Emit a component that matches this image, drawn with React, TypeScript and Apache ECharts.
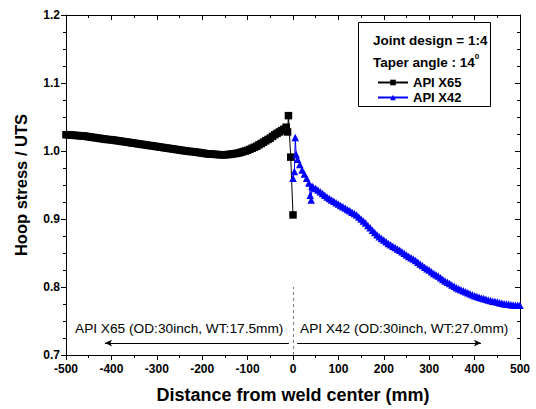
import React, { useEffect, useRef } from "react";
import * as echarts from "echarts";

const FONT = "'Liberation Sans', Arial, Helvetica, sans-serif";

// API X65 (black squares): [distance mm, hoop stress / UTS]
const x65Data: [number, number][] = [
  [-500, 1.024], [-495, 1.0238], [-490, 1.0235], [-485, 1.0232], [-480, 1.023],
  [-475, 1.0227], [-470, 1.0225], [-465, 1.0222], [-460, 1.022], [-455, 1.0215],
  [-450, 1.021], [-445, 1.0205], [-440, 1.02], [-435, 1.0195], [-430, 1.019],
  [-425, 1.0185], [-420, 1.018], [-415, 1.0175], [-410, 1.017], [-405, 1.0168],
  [-400, 1.0165], [-395, 1.016], [-390, 1.0155], [-385, 1.015], [-380, 1.0145],
  [-375, 1.014], [-370, 1.0135], [-365, 1.013], [-360, 1.0125], [-355, 1.012],
  [-350, 1.0115], [-345, 1.011], [-340, 1.0105], [-335, 1.01], [-330, 1.0095],
  [-325, 1.009], [-320, 1.0085], [-315, 1.008], [-310, 1.0075], [-305, 1.007],
  [-300, 1.0065], [-295, 1.006], [-290, 1.0055], [-285, 1.005], [-280, 1.0045],
  [-275, 1.004], [-270, 1.0035], [-265, 1.003], [-260, 1.0025], [-255, 1.002],
  [-250, 1.0015], [-245, 1.001], [-240, 1.0005], [-235, 1.0], [-230, 0.9995],
  [-225, 0.9992], [-220, 0.999], [-215, 0.9985], [-210, 0.998], [-205, 0.9975],
  [-200, 0.997], [-195, 0.9965], [-190, 0.996], [-185, 0.9957], [-180, 0.9955],
  [-175, 0.9952], [-170, 0.995], [-165, 0.9947], [-160, 0.9945], [-155, 0.9944],
  [-150, 0.9945], [-145, 0.9947], [-140, 0.995], [-135, 0.9955], [-130, 0.996],
  [-125, 0.9965], [-120, 0.997], [-115, 0.998], [-110, 0.999], [-105, 1.0],
  [-100, 1.001], [-95, 1.0025], [-90, 1.004], [-85, 1.0055], [-80, 1.007],
  [-75, 1.009], [-70, 1.011], [-65, 1.013], [-60, 1.015], [-55, 1.017],
  [-50, 1.019], [-45, 1.0215], [-40, 1.024], [-35, 1.026], [-30, 1.028],
  [-25, 1.03], [-20, 1.032], [-15, 1.035], [-12, 1.028], [-10, 1.052],
  [-5, 0.991], [0, 0.906],
];

// API X42 (blue triangles)
const x42Data: [number, number][] = [
  [0, 0.96], [3, 0.97], [5, 1.02], [7, 0.995], [10, 0.988], [15, 0.98],
  [20, 0.972], [25, 0.966], [30, 0.96], [35, 0.953], [38, 0.935], [40, 0.928],
  [42, 0.948], [45, 0.946], [50, 0.945], [55, 0.9425], [60, 0.94], [65, 0.9375],
  [70, 0.935], [75, 0.9325], [80, 0.93], [85, 0.928], [90, 0.926], [95, 0.924],
  [100, 0.922], [105, 0.92], [110, 0.918], [115, 0.916], [120, 0.914], [125, 0.912],
  [130, 0.91], [135, 0.908], [140, 0.906], [145, 0.903], [150, 0.9], [155, 0.897],
  [160, 0.894], [165, 0.8905], [170, 0.887], [175, 0.8835], [180, 0.88], [185, 0.877],
  [190, 0.874], [195, 0.8715], [200, 0.869], [205, 0.8665], [210, 0.864], [215, 0.862],
  [220, 0.86], [225, 0.858], [230, 0.856], [235, 0.854], [240, 0.852], [245, 0.8495],
  [250, 0.847], [255, 0.845], [260, 0.843], [265, 0.841], [270, 0.839], [275, 0.8365],
  [280, 0.834], [285, 0.8315], [290, 0.829], [295, 0.827], [300, 0.825], [305, 0.8225],
  [310, 0.82], [315, 0.818], [320, 0.816], [325, 0.8135], [330, 0.811], [335, 0.809],
  [340, 0.807], [345, 0.805], [350, 0.803], [355, 0.801], [360, 0.799], [365, 0.7975],
  [370, 0.796], [375, 0.7945], [380, 0.793], [385, 0.7915], [390, 0.79], [395, 0.7885],
  [400, 0.787], [405, 0.786], [410, 0.785], [415, 0.784], [420, 0.783], [425, 0.782],
  [430, 0.781], [435, 0.78], [440, 0.779], [445, 0.7785], [450, 0.778], [455, 0.777],
  [460, 0.776], [465, 0.7755], [470, 0.775], [475, 0.7745], [480, 0.774], [485, 0.7735],
  [490, 0.773], [495, 0.773], [500, 0.773],
];

const xRange = [-500, 500];
const yRange = [0.7, 1.2];
const dividerTop = 0.8;
const arrowY = 0.7175;
const leftArrow = [-9, -414];
const rightArrow = [9, 414];

export default function App() {
  const ref = useRef<HTMLDivElement>(null);
  useEffect(() => {
    if (!ref.current) return;
    const chart = echarts.init(ref.current, undefined, { renderer: "svg" });
    const axisLine = { show: true, onZero: false, lineStyle: { color: "#000", width: 1 } };
    const labelStyle = { color: "#000", fontFamily: FONT, fontWeight: "bold" as const, fontSize: 12 };
    chart.setOption({
      animation: false,
      backgroundColor: "#fff",
      grid: { left: 66, right: 16, top: 15, bottom: 52 },
      legend: {
        data: ["API X65", "API X42"],
        orient: "vertical",
        left: 372,
        top: 71,
        z: 20,
        itemWidth: 30,
        itemHeight: 7,
        itemGap: 2,
        textStyle: { ...labelStyle, fontSize: 13 },
      },
      xAxis: [
        {
          type: "value", min: xRange[0], max: xRange[1], interval: 100,
          axisLine, splitLine: { show: false },
          axisTick: { show: true, inside: false, length: 5, lineStyle: { color: "#000" } },
          minorTick: { show: true, splitNumber: 2, length: 3, lineStyle: { color: "#000" } },
          axisLabel: { ...labelStyle, margin: 8 },
          name: "Distance from weld center (mm)",
          nameLocation: "middle", nameGap: 31,
          nameTextStyle: { color: "#000", fontFamily: FONT, fontWeight: "bold", fontSize: 18 },
        },
        {
          type: "value", position: "top", min: xRange[0], max: xRange[1], interval: 100,
          axisLine, splitLine: { show: false },
          axisTick: { show: true, inside: true, length: 5, lineStyle: { color: "#000" } },
          minorTick: { show: true, splitNumber: 2, length: 3, lineStyle: { color: "#000" } },
          axisLabel: { show: false },
        },
      ],
      yAxis: [
        {
          type: "value", min: yRange[0], max: yRange[1], interval: 0.1,
          axisLine, splitLine: { show: false },
          axisTick: { show: true, inside: false, length: 5, lineStyle: { color: "#000" } },
          minorTick: { show: true, splitNumber: 4, length: 3, lineStyle: { color: "#000" } },
          axisLabel: { ...labelStyle, margin: 6, formatter: (v: number) => v.toFixed(1) },
          name: "Hoop stress / UTS",
          nameLocation: "middle", nameGap: 37,
          nameTextStyle: { color: "#000", fontFamily: FONT, fontWeight: "bold", fontSize: 16.5 },
        },
        {
          type: "value", position: "right", min: yRange[0], max: yRange[1], interval: 0.1,
          axisLine, splitLine: { show: false },
          axisTick: { show: true, inside: true, length: 5, lineStyle: { color: "#000" } },
          minorTick: { show: true, splitNumber: 4, length: 3, lineStyle: { color: "#000" } },
          axisLabel: { show: false },
        },
      ],
      series: [
        {
          name: "API X65", type: "line", data: x65Data,
          symbol: "rect", symbolSize: 7.5, showSymbol: true, showAllSymbol: true,
          itemStyle: { color: "#000" }, lineStyle: { color: "#000", width: 1 },
          markLine: {
            silent: true, symbol: ["none", "none"], label: { show: false },
            lineStyle: { color: "#777", type: [3, 3], width: 1 },
            data: [[{ coord: [0, yRange[0]] }, { coord: [0, dividerTop] }]],
          },
        },
        {
          name: "API X42", type: "line", data: x42Data,
          symbol: "triangle", symbolSize: 7.5, showSymbol: true, showAllSymbol: true,
          itemStyle: { color: "#0000ff" }, lineStyle: { color: "#0000ff", width: 1 },
          markLine: {
            silent: true, symbol: ["none", "arrow"], symbolSize: [5, 7], label: { show: false },
            lineStyle: { color: "#000", type: "solid", width: 1 },
            data: [
              [{ coord: [leftArrow[0], arrowY] }, { coord: [leftArrow[1], arrowY] }],
              [{ coord: [rightArrow[0], arrowY] }, { coord: [rightArrow[1], arrowY] }],
            ],
          },
        },
      ],
      graphic: [
        {
          type: "rect", left: 358, top: 22,
          shape: { width: 132, height: 84 },
          style: { fill: "#fff", stroke: "#000", lineWidth: 1 },
          z: 1,
        },
        {
          type: "text", left: 373, top: 33, z: 10,
          style: { text: "Joint design = 1:4", fill: "#000", font: `bold 13.5px ${FONT}` },
        },
        {
          type: "text", left: 373, top: 52, z: 10,
          style: {
            text: "{a|Taper angle : 14}{s|0}",
            rich: {
              a: { fontFamily: FONT, fontWeight: "bold", fontSize: 13.5, fill: "#000", lineHeight: 17, verticalAlign: "bottom" },
              s: { fontFamily: FONT, fontWeight: "bold", fontSize: 8, fill: "#000", lineHeight: 17, verticalAlign: "top" },
            },
          },
        },
        {
          type: "text", left: 75, top: 321, z: 10,
          style: { text: "API X65 (OD:30inch, WT:17.5mm)", fill: "#000", font: `13.7px ${FONT}` },
        },
        {
          type: "text", left: 300, top: 321, z: 10,
          style: { text: "API X42 (OD:30inch, WT:27.0mm)", fill: "#000", font: `13.7px ${FONT}` },
        },
      ],
    });
    return () => chart.dispose();
  }, []);
  return (
    <div
      ref={ref}
      style={{ position: "fixed", left: 0, top: 0, width: 536, height: 409, background: "#fff" }}
    />
  );
}
